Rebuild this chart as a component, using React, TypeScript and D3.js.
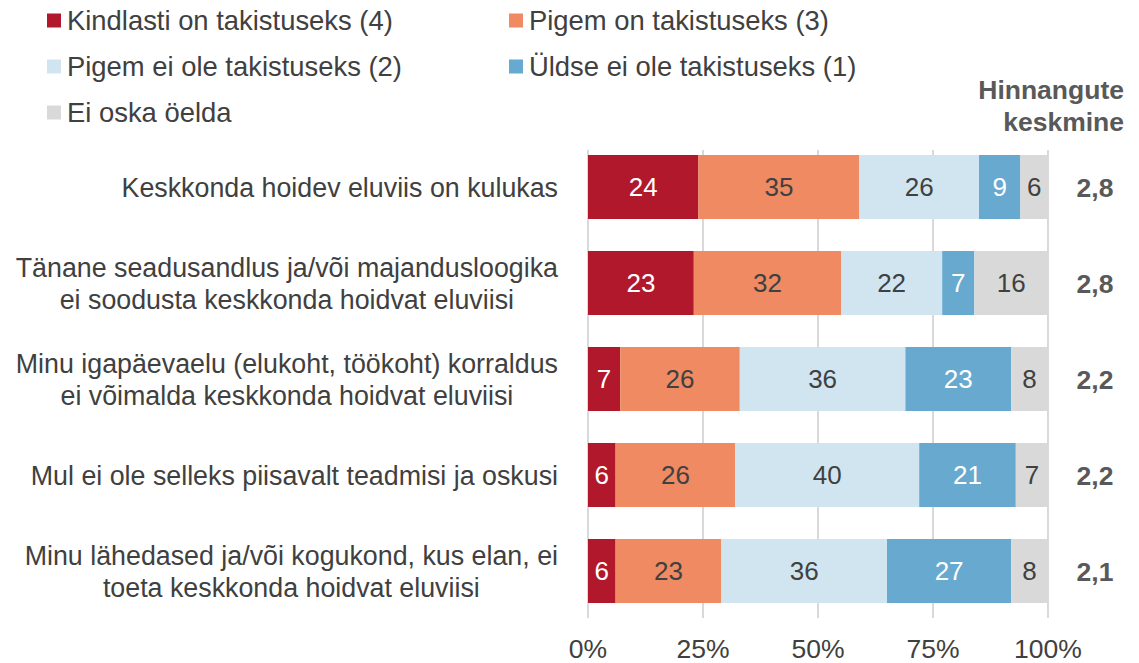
import React from "react";
import * as d3 from "d3";

const categories = [
  ["Keskkonda hoidev eluviis on kulukas"],
  ["Tänane seadusandlus ja/või majandusloogika", "ei soodusta keskkonda hoidvat eluviisi"],
  ["Minu igapäevaelu (elukoht, töökoht) korraldus", "ei võimalda keskkonda hoidvat eluviisi"],
  ["Mul ei ole selleks piisavalt teadmisi ja oskusi"],
  ["Minu lähedased ja/või kogukond, kus elan, ei", "toeta keskkonda  hoidvat eluviisi"],
];
const seriesNames = [
  "Kindlasti on takistuseks (4)",
  "Pigem on takistuseks (3)",
  "Pigem ei ole takistuseks (2)",
  "Üldse ei ole takistuseks (1)",
  "Ei oska öelda",
];
const s4 = [24, 23, 7, 6, 6];
const s3 = [35, 32, 26, 26, 23];
const s2 = [26, 22, 36, 40, 36];
const s1 = [9, 7, 23, 21, 27];
const sNA = [6, 16, 8, 7, 8];
const means = ["2,8", "2,8", "2,2", "2,2", "2,1"];
const ticks = [0, 25, 50, 75, 100];

const colors = ["#B2182B", "#EF8A62", "#D1E5F0", "#67A9CF", "#D9D9D9"];
const textColors = ["#FFFFFF", "#404040", "#404040", "#FFFFFF", "#404040"];
const FONT = "'Liberation Sans', Arial, sans-serif";
const FS_LEG = 27.4;
const FS_CAT = 26.8;
const FS_BAR = 26;
const FS_TICK = 26.5;
const FS_BOLD = 26.5;

let ctx: CanvasRenderingContext2D | null = null;
function measure(t: string, size: number, bold = false) {
  if (!ctx) ctx = document.createElement("canvas").getContext("2d");
  if (!ctx) return t.length * size * 0.5;
  ctx.font = `${bold ? "bold " : ""}${size}px ${FONT}`;
  return ctx.measureText(t).width;
}

export default function App() {
  const W = 1139, H = 663;
  const x = d3.scaleLinear().domain([0, 100]).range([588, 1048]);
  const y = d3.scaleBand<number>().domain(d3.range(categories.length)).range([139, 619]).paddingInner(1 / 3).paddingOuter(1 / 6);
  const series = [s4, s3, s2, s1, sNA];
  const labelRight = 558;

  const legendPos = [
    [47, 20], [509, 20], [47, 66], [509, 66], [47, 112],
  ];

  return (
    <svg width={W} height={H} style={{ position: "absolute", left: 0, top: 0, fontFamily: FONT }}>
      <rect width={W} height={H} fill="#fff" />
      {ticks.map((t) => (
        <line key={t} x1={x(t)} x2={x(t)} y1={150} y2={618} stroke="#D9D9D9" strokeWidth={2} />
      ))}
      {categories.map((_, i) => {
        let acc = 0;
        return (
          <g key={i}>
            {series.map((s, j) => {
              const x0 = acc;
              acc += s[i];
              const xa = x(x0), xb = x(acc);
              return (
                <g key={j}>
                  <rect x={xa} y={y(i)} width={xb - xa} height={y.bandwidth()} fill={colors[j]} />
                  <text x={(xa + xb) / 2} y={y(i)! + y.bandwidth() / 2} dy="0.36em" textAnchor="middle"
                    fontSize={FS_BAR} fill={textColors[j]}>{s[i]}</text>
                </g>
              );
            })}
          </g>
        );
      })}
      {categories.map((lines, i) => {
        const maxW = Math.max(...lines.map((l) => measure(l, FS_CAT)));
        const cx = labelRight - maxW / 2;
        const cy = y(i)! + y.bandwidth() / 2;
        const lh = 32;
        return (
          <text key={i} fontSize={FS_CAT} fill="#404040" textAnchor="middle">
            {lines.map((l, k) => (
              <tspan key={k} x={cx} y={cy + (k - (lines.length - 1) / 2) * lh} dy="0.36em">{l}</tspan>
            ))}
          </text>
        );
      })}
      {ticks.map((t) => (
        <text key={t} x={x(t)} y={648} dy="0.36em" textAnchor="middle" fontSize={FS_TICK} fill="#404040">{t}%</text>
      ))}
      {means.map((m, i) => (
        <text key={i} x={1095} y={y(i)! + y.bandwidth() / 2} dy="0.36em" textAnchor="middle" fontSize={FS_BOLD}
          fontWeight="bold" fill="#595959">{m}</text>
      ))}
      <text x={1124} y={89} dy="0.36em" textAnchor="end" fontSize={FS_BOLD} fontWeight="bold" fill="#595959">Hinnangute</text>
      <text x={1124} y={121} dy="0.36em" textAnchor="end" fontSize={FS_BOLD} fontWeight="bold" fill="#595959">keskmine</text>
      {seriesNames.map((n, j) => (
        <g key={j}>
          <rect x={legendPos[j][0]} y={legendPos[j][1] - 6.5} width={14} height={14} fill={colors[j]} />
          <text x={legendPos[j][0] + 20} y={legendPos[j][1]} dy="0.36em" fontSize={FS_LEG} fill="#404040">{n}</text>
        </g>
      ))}
    </svg>
  );
}
